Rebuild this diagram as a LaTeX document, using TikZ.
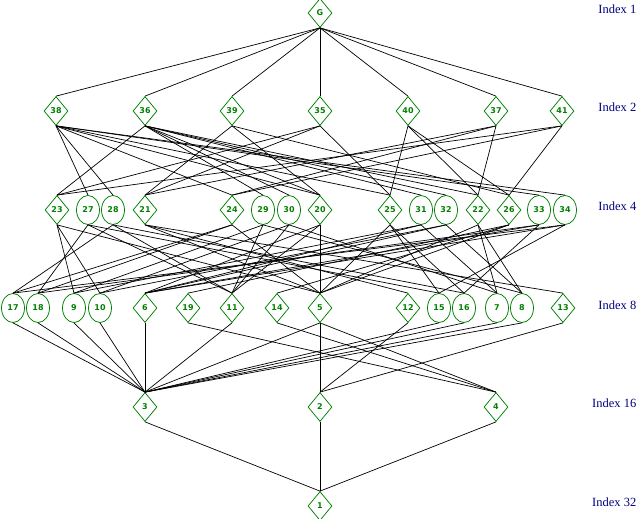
\documentclass[tikz,border=0pt]{standalone}
\usepackage{fontspec}
\setmainfont{Liberation Serif}
\newfontfamily\lblfont{DejaVu Sans}
\usetikzlibrary{shapes.geometric}
\definecolor{ngreen}{RGB}{0,128,0}
\definecolor{idxblue}{RGB}{0,0,128}
\begin{document}
\begin{tikzpicture}[x=1pt,y=-1pt,
  dnode/.style={draw=ngreen,diamond,minimum width=24pt,minimum height=29pt,inner sep=0pt,line width=0.75pt,
    font=\lblfont\bfseries\fontsize{8}{9}\selectfont,text=ngreen},
  cnode/.style={draw=ngreen,ellipse,minimum width=23pt,minimum height=29pt,inner sep=0pt,line width=0.75pt,
    font=\lblfont\bfseries\fontsize{8}{9}\selectfont,text=ngreen},
  idx/.style={anchor=east,text=idxblue,font=\fontsize{12.5}{13}\selectfont,inner sep=0pt},
  edge/.style={line width=0.7pt,black}]
\useasboundingbox (0,0) rectangle (637,519);
% row 1
\node[dnode] (nG) at (320,13) {G};
% row 2
\foreach \n/\x in {38/56,36/145,39/232,35/320,40/408,37/496,41/562}
  \node[dnode] (n\n) at (\x,111) {\n};
% row 3
\foreach \n/\x in {23/57,21/145,24/232,20/320,25/390,22/478,26/509}
  \node[dnode] (n\n) at (\x,210) {\n};
\foreach \n/\x in {27/88,28/113,29/263,30/289,31/421,32/446,33/539,34/565}
  \node[cnode] (n\n) at (\x,210) {\n};
% row 4
\foreach \n/\x in {6/145,19/188,11/232,14/277,5/320,12/408,13/563}
  \node[dnode] (n\n) at (\x,308) {\n};
\foreach \n/\x in {17/13,18/38,9/74,10/100,15/439,16/464,7/497,8/522}
  \node[cnode] (n\n) at (\x,308) {\n};
% row 5, 6
\foreach \n/\x in {3/145,2/320,4/496}
  \node[dnode] (n\n) at (\x,407) {\n};
\node[dnode] (n1) at (320,506) {1};
% index labels
\node[idx] (i1) at (636.5,9) {Index 1};
\node[idx] (i2) at (636.5,107) {Index 2};
\node[idx] (i4) at (636.5,206) {Index 4};
\node[idx] (i8) at (636.5,305) {Index 8};
\node[idx] (i16) at (636.5,403) {Index 16};
\node[idx] (i32) at (636.5,502) {Index 32};
% edges
\foreach \a/\b in {G/38,G/36,G/39,G/35,G/40,G/37,G/41,
  38/27,38/28,38/33,38/34,38/24,38/25,38/20,
  36/29,36/30,36/31,36/32,36/23,36/22,36/20,
  39/20,39/21,39/26, 35/23,35/25,35/21, 40/22,40/25,40/26,
  37/22,37/24,37/21, 41/23,41/24,41/26,
  23/5,23/9,23/10, 21/5,21/12,21/13, 24/5,24/17,24/18,
  20/5,20/6,20/11, 25/5,25/15,25/16, 22/5,22/7,22/8,
  26/5,26/19,26/14,
  27/11,27/18,27/15, 28/11,28/17,28/16, 33/6,33/18,33/16, 34/6,34/17,34/15,
  29/11,29/9,29/8, 30/11,30/10,30/7, 31/6,31/9,31/7, 32/6,32/10,32/8,
  17/3,18/3,9/3,10/3,6/3,11/3,5/3,15/3,16/3,7/3,8/3,
  5/2,12/2,13/2, 5/4,19/4,14/4, 3/1,2/1,4/1}
  \draw[edge] (n\a.south) -- (n\b.north);
\end{tikzpicture}
\end{document}
